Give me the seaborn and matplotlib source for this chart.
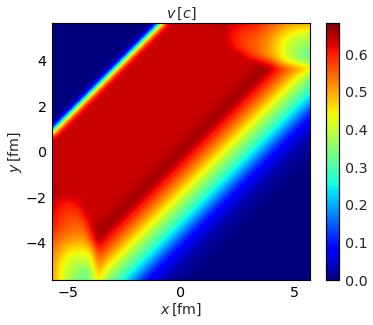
# File: plot.py
# Aim: Velocity map v[c] over the x-y plane

import matplotlib
matplotlib.use('Agg')
import matplotlib.pyplot as plt
import numpy as np
import seaborn as sns

x_min, x_max = -5.67, 5.67
y_min, y_max = -5.67, 5.67
x_tick_values = [-5, 0, 5]
y_tick_values = [-4, -2, 0, 2, 4]
cbar_tick_values = [0.0, 0.1, 0.2, 0.3, 0.4, 0.5, 0.6]
v_max = 0.683

# v in units of 0.01 c, first row is the bottom of the picture (y_min)
v_rows = [
    [50,46,41,37,34,32,37,47,37,33,29,25,20,15,10,7,5,3,2,1,1,0,0,0,0,0,0,0,0,0,0,0,0,0,0,0,0,0,0,0],
    [51,46,41,38,35,33,37,50,42,37,33,29,25,20,15,10,7,5,3,2,1,1,0,0,0,0,0,0,0,0,0,0,0,0,0,0,0,0,0,0],
    [51,46,42,39,37,36,40,52,46,42,37,33,29,25,20,15,10,7,5,3,2,1,1,0,0,0,0,0,0,0,0,0,0,0,0,0,0,0,0,0],
    [52,48,44,41,40,40,43,55,50,46,42,37,33,29,25,20,15,10,7,5,3,2,1,1,0,0,0,0,0,0,0,0,0,0,0,0,0,0,0,0],
    [53,50,46,44,43,43,46,58,54,50,46,42,37,33,29,25,20,15,10,7,5,3,2,1,1,0,0,0,0,0,0,0,0,0,0,0,0,0,0,0],
    [55,52,49,47,47,47,51,62,58,54,50,46,42,37,33,29,25,20,15,10,7,5,3,2,1,1,0,0,0,0,0,0,0,0,0,0,0,0,0,0],
    [56,54,52,51,50,50,58,66,61,58,54,50,46,42,37,33,29,25,20,15,10,7,5,3,2,1,1,0,0,0,0,0,0,0,0,0,0,0,0,0],
    [58,56,54,53,53,53,60,67,65,61,58,54,50,46,42,37,33,29,25,20,15,10,7,5,3,2,1,1,0,0,0,0,0,0,0,0,0,0,0,0],
    [61,58,56,55,55,56,64,66,67,65,61,58,54,50,46,42,37,33,29,25,20,15,10,7,5,3,2,1,1,0,0,0,0,0,0,0,0,0,0,0],
    [62,59,57,56,56,59,64,64,65,67,65,61,58,54,50,46,42,37,33,29,25,20,15,10,7,5,3,2,1,1,0,0,0,0,0,0,0,0,0,0],
    [62,60,58,58,58,63,64,64,64,65,67,65,61,58,54,50,46,42,37,33,29,25,20,15,10,7,5,3,2,1,1,0,0,0,0,0,0,0,0,0],
    [63,61,60,59,61,64,64,64,64,64,65,67,65,61,58,54,50,46,42,37,33,29,25,20,15,10,7,5,3,2,1,1,0,0,0,0,0,0,0,0],
    [64,62,61,62,63,64,64,64,64,64,64,65,67,65,61,58,54,50,46,42,37,33,29,25,20,15,10,7,5,3,2,1,1,0,0,0,0,0,0,0],
    [66,65,64,64,64,64,64,64,64,64,64,64,65,67,65,61,58,54,50,46,42,37,33,29,25,20,15,10,7,5,3,2,1,1,0,0,0,0,0,0],
    [65,64,64,64,64,64,64,64,64,64,64,64,64,65,67,65,61,58,54,50,46,42,37,33,29,25,20,15,10,7,5,3,2,1,1,0,0,0,0,0],
    [64,64,64,64,64,64,64,64,64,64,64,64,64,64,65,67,65,61,58,54,50,46,42,37,33,29,25,20,15,10,7,5,3,2,1,1,0,0,0,0],
    [64,64,64,64,64,64,64,64,64,64,64,64,64,64,64,65,67,65,61,58,54,50,46,42,37,33,29,25,20,15,10,7,5,3,2,1,1,0,0,0],
    [64,64,64,64,64,64,64,64,64,64,64,64,64,64,64,64,65,67,65,61,58,54,50,46,42,37,33,29,25,20,15,10,7,5,3,2,1,1,0,0],
    [64,64,64,64,64,64,64,64,64,64,64,64,64,64,64,64,64,65,67,65,61,58,54,50,46,42,37,33,29,25,20,15,10,7,5,3,2,1,1,0],
    [64,64,64,64,64,64,64,64,64,64,64,64,64,64,64,64,64,64,65,67,65,61,58,54,50,46,42,37,33,29,25,20,15,10,7,5,3,2,1,1],
    [64,64,64,64,64,64,64,64,64,64,64,64,64,64,64,64,64,64,64,65,67,65,61,58,54,50,46,42,37,33,29,25,20,15,10,7,5,3,2,1],
    [64,64,64,64,64,64,64,64,64,64,64,64,64,64,64,64,64,64,64,64,65,67,65,61,58,54,50,46,42,37,33,29,25,20,15,10,7,5,3,2],
    [56,64,64,64,64,64,64,64,64,64,64,64,64,64,64,64,64,64,64,64,64,65,67,65,61,58,54,50,46,42,37,33,29,25,20,15,10,7,5,3],
    [0,56,64,64,64,64,64,64,64,64,64,64,64,64,64,64,64,64,64,64,64,64,65,67,65,61,58,54,50,46,42,37,33,29,25,20,15,10,7,5],
    [0,0,56,64,64,64,64,64,64,64,64,64,64,64,64,64,64,64,64,64,64,64,64,65,67,65,61,58,54,50,46,42,37,33,29,25,20,15,10,7],
    [0,0,0,56,64,64,64,64,64,64,64,64,64,64,64,64,64,64,64,64,64,64,64,64,65,67,65,61,58,54,50,46,42,37,33,29,25,20,15,10],
    [0,0,0,0,56,64,64,64,64,64,64,64,64,64,64,64,64,64,64,64,64,64,64,64,64,65,67,65,61,58,54,50,46,42,37,33,29,25,20,15],
    [0,0,0,0,0,56,64,64,64,64,64,64,64,64,64,64,64,64,64,64,64,64,64,64,64,64,65,67,65,61,58,54,50,46,42,37,33,29,25,20],
    [0,0,0,0,0,0,56,64,64,64,64,64,64,64,64,64,64,64,64,64,64,64,64,64,64,64,64,65,67,65,61,58,54,50,46,42,37,33,29,25],
    [0,0,0,0,0,0,0,56,64,64,64,64,64,64,64,64,64,64,64,64,64,64,64,64,64,64,64,64,65,67,65,61,58,54,50,46,42,37,33,29],
    [0,0,0,0,0,0,0,0,56,64,64,64,64,64,64,64,64,64,64,64,64,64,64,64,64,64,64,64,64,65,67,65,61,58,54,50,46,42,37,33],
    [0,0,0,0,0,0,0,0,0,56,64,64,64,64,64,64,64,64,64,64,64,64,64,64,64,64,64,64,64,64,65,67,65,61,58,54,50,46,42,37],
    [0,0,0,0,0,0,0,0,0,0,56,64,64,64,64,64,64,64,64,64,64,64,64,64,64,64,64,64,64,64,64,66,67,66,62,58,55,52,50,47],
    [0,0,0,0,0,0,0,0,0,0,0,56,64,64,64,64,64,64,64,64,64,64,64,64,64,64,64,64,64,64,64,64,60,58,51,46,43,40,37,37],
    [0,0,0,0,0,0,0,0,0,0,0,0,56,64,64,64,64,64,64,64,64,64,64,64,64,64,64,64,64,63,59,56,53,50,47,43,40,36,33,32],
    [0,0,0,0,0,0,0,0,0,0,0,0,0,56,64,64,64,64,64,64,64,64,64,64,64,64,64,63,61,58,56,55,53,50,47,43,40,37,35,34],
    [0,0,0,0,0,0,0,0,0,0,0,0,0,0,56,64,64,64,64,64,64,64,64,64,64,64,64,62,59,58,56,55,53,51,47,44,41,39,38,37],
    [0,0,0,0,0,0,0,0,0,0,0,0,0,0,0,56,64,64,64,64,64,64,64,64,64,64,64,61,60,58,57,56,54,52,49,46,44,42,41,41],
    [0,0,0,0,0,0,0,0,0,0,0,0,0,0,0,0,56,64,64,64,64,64,64,64,64,64,65,62,61,60,59,58,56,54,52,50,48,46,46,46],
    [0,0,0,0,0,0,0,0,0,0,0,0,0,0,0,0,0,56,64,64,64,64,64,64,64,64,66,64,63,62,62,61,58,56,55,53,52,51,51,50],
]

v_grid = np.array(v_rows) / 100
n_rows, n_cols = v_grid.shape
x_step = (x_max - x_min) / (n_cols - 1)
y_step = (y_max - y_min) / (n_rows - 1)

# -----------------------------------------------------------------------
# Prepare canvas
sns.set_style('ticks')
plt.rcParams['font.family'] = ['DejaVu Sans']
plt.rcParams['font.size'] = 10.3

fig = plt.figure(figsize=(3.73, 3.25), dpi=100)
ax = fig.add_axes([0.1402, 0.1375, 0.690, 0.7917])
cax = fig.add_axes([0.874, 0.1375, 0.0349, 0.7917])

# Heatmap gives the cells and the colorbar, cell i is centred on i + 0.5
sns.heatmap(v_grid, cmap='jet', vmin=0, vmax=v_max, ax=ax, cbar_ax=cax,
            xticklabels=False, yticklabels=False, square=False)

# The reference is smooth, so draw the same grid on top with interpolation
ax.imshow(v_grid, cmap='jet', vmin=0, vmax=v_max, origin='lower',
          extent=(0, n_cols, 0, n_rows), aspect='auto', zorder=2,
          interpolation='bicubic', interpolation_stage='data')

ax.set_xlim(0.5, n_cols - 0.5)
ax.set_ylim(0.5, n_rows - 0.5)
ax.set_xticks([(t - x_min) / x_step + 0.5 for t in x_tick_values])
ax.set_xticklabels([str(t).replace('-', '\u2212') for t in x_tick_values])
ax.set_yticks([(t - y_min) / y_step + 0.5 for t in y_tick_values])
ax.set_yticklabels([str(t).replace('-', '\u2212') for t in y_tick_values])
ax.tick_params(direction='in', top=True, right=True, length=3, width=0.8,
               labelsize=10.3, pad=4, colors='black')
for side in ax.spines:
    ax.spines[side].set_visible(True)
    ax.spines[side].set_linewidth(0.8)
    ax.spines[side].set_color('black')

ax.set_xlabel(r'$x\,[\mathrm{fm}]$', fontsize=10.3, labelpad=1.5)
ax.set_ylabel(r'$y\,[\mathrm{fm}]$', fontsize=10.3, labelpad=1.5)
ax.set_title(r'$v\,[c]$', fontsize=10.3, pad=4)

# Colorbar
cax.set_yticks(cbar_tick_values)
cax.set_yticklabels([f'{t:.1f}' for t in cbar_tick_values])
cax.tick_params(direction='in', length=3, width=0.8, labelsize=10.3, pad=4,
                right=True, left=False)
for side in cax.spines:
    cax.spines[side].set_visible(True)
    cax.spines[side].set_linewidth(0.8)
    cax.spines[side].set_color('black')

fig.savefig('out.png', dpi=100)
